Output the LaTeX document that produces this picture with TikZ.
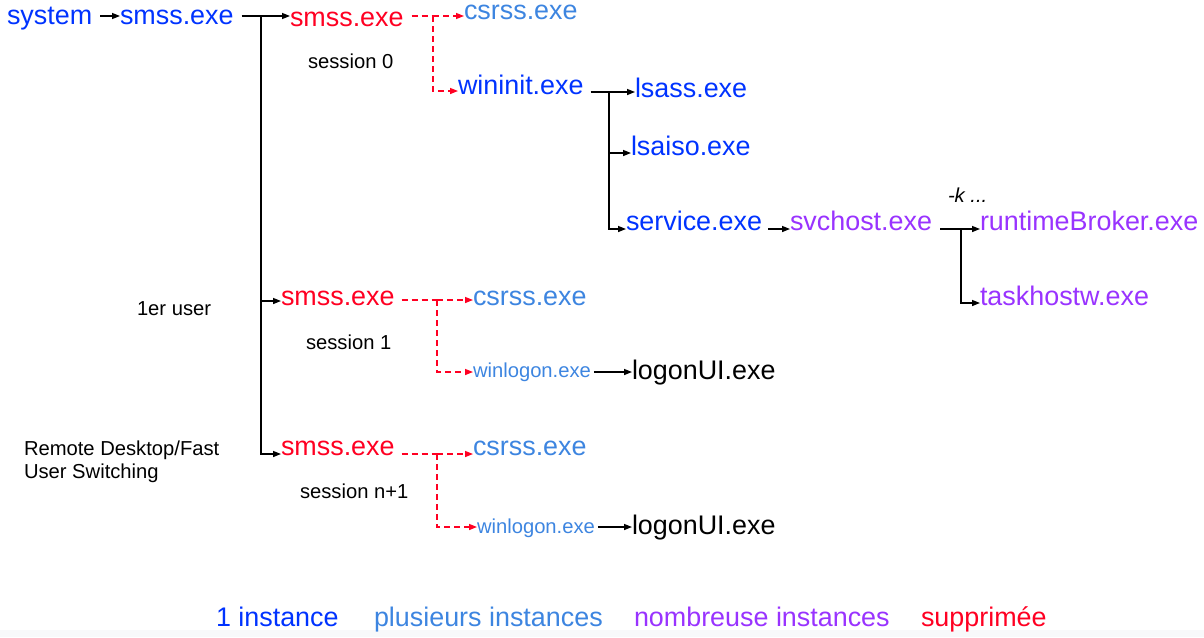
\documentclass[tikz,border=0pt]{standalone}
\usepackage{fontspec}
\setmainfont{Liberation Sans}
\usetikzlibrary{arrows.meta}
\definecolor{cblue}{RGB}{0,51,255}
\definecolor{clblue}{RGB}{61,133,224}
\definecolor{cpurple}{RGB}{153,51,255}
\definecolor{cred}{RGB}{255,0,34}
\definecolor{cgray}{RGB}{248,249,250}
\begin{document}
\begin{tikzpicture}[x=1pt,y=-1pt,
  lbl/.style={inner sep=0pt, outer sep=0pt, anchor=base west, font=\fontsize{26.9}{30}\selectfont},
  sml/.style={inner sep=0pt, outer sep=0pt, anchor=base west, font=\fontsize{20.2}{23}\selectfont},
  conn/.style={line width=1.4pt, black},
  arr/.style={conn, -{Triangle[length=8pt,width=6pt]}},
  darr/.style={line width=1.4pt, cred, dash pattern=on 6pt off 4pt, -{Triangle[length=8pt,width=6pt]}},
  dline/.style={line width=1.4pt, cred, dash pattern=on 6pt off 4pt},
]
\useasboundingbox (0,0) rectangle (1204,637);
\fill[cgray] (0,630) rectangle (1204,637);

% nodes
\node[lbl, text=cblue] (system) at (7,24) {system};
\node[lbl, text=cblue] (smssA) at (120,24) {smss.exe};
\node[lbl, text=cred] (smss0) at (290,26) {smss.exe};
\node[lbl, text=clblue] (csrss0) at (464,19) {csrss.exe};
\node[sml] (sess0) at (308,68) {session 0};
\node[lbl, text=cblue] (wininit) at (458,94) {wininit.exe};
\node[lbl, text=cblue] (lsass) at (635,97) {lsass.exe};
\node[lbl, text=cblue] (lsaiso) at (631,155) {lsaiso.exe};
\node[lbl, text=cblue] (service) at (626,230) {service.exe};
\node[lbl, text=cpurple] (svchost) at (790,230) {svchost.exe};
\node[sml, font=\fontsize{20.2}{23}\selectfont\itshape] (kopt) at (948,202) {-k ...};
\node[lbl, text=cpurple] (runtime) at (980,230) {runtimeBroker.exe};
\node[lbl, text=cpurple] (taskhostw) at (980,305) {taskhostw.exe};

\node[sml] (user1) at (137,315) {1er user};
\node[lbl, text=cred] (smss1) at (281,305) {smss.exe};
\node[lbl, text=clblue] (csrss1) at (473,305) {csrss.exe};
\node[sml] (sess1) at (306,349) {session 1};
\node[sml, text=clblue] (winlogon1) at (473,377) {winlogon.exe};
\node[lbl] (logon1) at (632,379) {logonUI.exe};

\node[sml, anchor=north west, align=left] (remote) at (24,441) {Remote Desktop/Fast\\User Switching};
\node[lbl, text=cred] (smss2) at (281,455) {smss.exe};
\node[lbl, text=clblue] (csrss2) at (473,455) {csrss.exe};
\node[sml] (sessn) at (300,498) {session n+1};
\node[sml, text=clblue] (winlogon2) at (477,533) {winlogon.exe};
\node[lbl] (logon2) at (632,534) {logonUI.exe};

% legend
\node[lbl, text=cblue] (leg1) at (216,626) {1 instance};
\node[lbl, text=clblue] (leg2) at (374,626) {plusieurs instances};
\node[lbl, text=cpurple] (leg3) at (634,626) {nombreuse instances};
\node[lbl, text=cred] (leg4) at (921,626) {supprimée};

% junctions
\coordinate (t0) at (261,16);
\coordinate (t1) at (261,301);
\coordinate (t2) at (261,454);
\coordinate (sysE) at ([xshift=8pt]system.east);
\coordinate (smssAE) at ([xshift=8pt]smssA.east);

\draw[arr] (sysE |- t0) -- (t0 -| smssA.west);
\draw[conn] (smssAE |- t0) -- (t0);
\draw[arr] (t0) -- (t0 -| smss0.west);
\draw[conn] (t0) -- (t1);
\draw[arr] (t1) -- (t1 -| smss1.west);
\draw[arr] (t1) -- (t2) -- (t2 -| smss2.west);

% session 0 (dashed)
\coordinate (d0) at (433,16);
\coordinate (d0b) at (433,91);
\coordinate (smss0E) at ([xshift=8pt]smss0.east);
\draw[dline] (smss0E |- d0) -- (d0);
\draw[darr] (d0) -- (d0 -| csrss0.west);
\draw[darr] (d0) -- (d0b) -- (d0b -| wininit.west);

% wininit children
\coordinate (w0) at (609,92);
\coordinate (w1) at (609,153);
\coordinate (w2) at (609,229);
\coordinate (wininitE) at ([xshift=7pt]wininit.east);
\draw[conn] (wininitE |- w0) -- (w0);
\draw[arr] (w0) -- (w0 -| lsass.west);
\draw[arr] (w0) -- (w1) -- (w1 -| lsaiso.west);
\draw[arr] (w1) -- (w2) -- (w2 -| service.west);

% service -> svchost
\coordinate (serviceE) at ([xshift=6pt]service.east);
\draw[arr] (serviceE |- w2) -- (w2 -| svchost.west);

% svchost children
\coordinate (s0) at (961,229);
\coordinate (s1) at (961,303);
\coordinate (svchostE) at ([xshift=8pt]svchost.east);
\draw[conn] (svchostE |- s0) -- (s0);
\draw[arr] (s0) -- (s0 -| runtime.west);
\draw[arr] (s0) -- (s1) -- (s1 -| taskhostw.west);

% session 1 (dashed)
\coordinate (d1) at (437,300);
\coordinate (d1b) at (437,372);
\coordinate (smss1E) at ([xshift=7pt]smss1.east);
\draw[dline] (smss1E |- d1) -- (d1);
\draw[darr] (d1) -- (d1 -| csrss1.west);
\draw[darr] (d1) -- (d1b) -- (d1b -| winlogon1.west);
\coordinate (wl1E) at ([xshift=3pt]winlogon1.east);
\draw[arr] (wl1E |- d1b) -- (d1b -| logon1.west);

% session n+1 (dashed)
\coordinate (d2) at (437,454);
\coordinate (d2b) at (437,527);
\coordinate (smss2E) at ([xshift=7pt]smss2.east);
\draw[dline] (smss2E |- d2) -- (d2);
\draw[darr] (d2) -- (d2 -| csrss2.west);
\draw[darr] (d2) -- (d2b) -- (d2b -| winlogon2.west);
\coordinate (wl2E) at ([xshift=3pt]winlogon2.east);
\draw[arr] (wl2E |- d2b) -- (d2b -| logon2.west);
\end{tikzpicture}
\end{document}
